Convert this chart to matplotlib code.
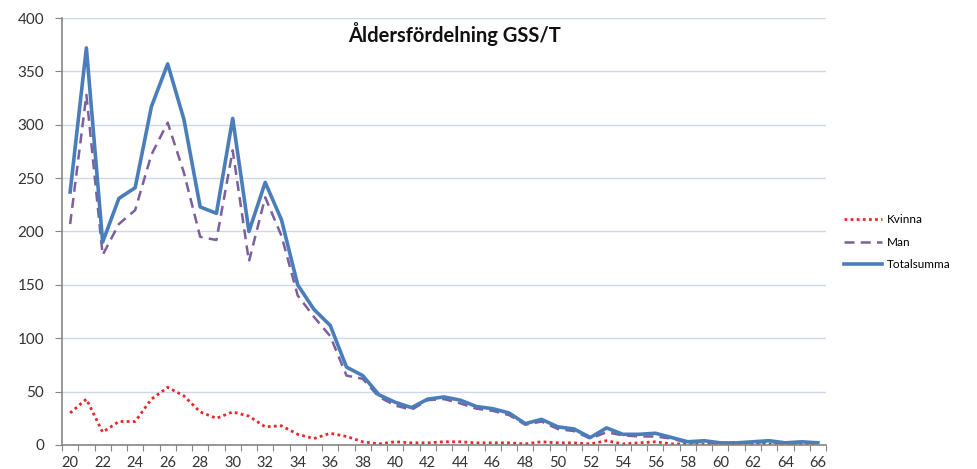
import numpy as np
import matplotlib.pyplot as plt

# Age categories and counts per series
ages = list(range(20, 67))
kvinna = [30, 43, 12, 22, 22, 43, 54, 46, 31, 25, 31, 27, 17, 18, 10, 6, 11, 8, 3, 1,
          3, 2, 2, 3, 3, 2, 2, 2, 1, 3, 2, 2, 1, 4, 1, 2, 3, 1, 1, 1,
          1, 0, 1, 1, 1, 1, 1]
man = [207, 328, 178, 207, 220, 272, 302, 255, 195, 192, 276, 172, 232, 196, 140, 120, 102, 65, 62, 45,
       37, 33, 42, 43, 39, 34, 32, 28, 19, 22, 15, 13, 6, 12, 9, 8, 8, 6, 2, 3,
       1, 2, 2, 3, 1, 2, 2]
total = [237, 372, 190, 231, 241, 317, 357, 305, 223, 217, 306, 200, 246, 211, 150, 127, 112, 73, 65, 47,
         40, 35, 43, 45, 42, 36, 34, 30, 20, 24, 17, 15, 7, 16, 10, 10, 11, 7, 3, 4,
         2, 2, 3, 4, 2, 3, 2]

plt.rcParams['font.family'] = ['Lato', 'DejaVu Sans']

fig = plt.figure(figsize=(9.78, 4.69), dpi=100)
ax = fig.add_axes([0.0634, 0.0512, 0.7812, 0.9104])

ax.plot(ages, kvinna, color='#e8262b', lw=2.0, ls=(0, (1, 1.2)), label='Kvinna')
ax.plot(ages, man, color='#7b5fa0', lw=1.8, ls=(0, (4, 2.5)), label='Man')
ax.plot(ages, total, color='#4a7ebb', lw=2.6, label='Totalsumma')

ax.set_xlim(19.5, 66.5)
ax.set_ylim(0, 400)
ax.set_yticks(range(0, 401, 50))
ax.grid(axis='y', color='#ccd9ec', lw=1.0)
ax.set_axisbelow(True)

# tick marks between categories, labels on every second age
ax.set_xticks(np.arange(19.5, 67, 1))
ax.set_xticklabels([])
ax.set_xticks(ages[::2], minor=True)
ax.set_xticklabels([str(a) for a in ages[::2]], minor=True)
ax.tick_params(axis='x', which='major', length=4, color='#868686', direction='out')
ax.tick_params(axis='x', which='minor', length=0, pad=8, labelsize=10.5, labelcolor='#333333')
ax.tick_params(axis='y', length=5, color='#868686', labelsize=11, labelcolor='#333333', pad=8)

for s in ['top', 'right']:
    ax.spines[s].set_visible(False)
for s in ['left', 'bottom']:
    ax.spines[s].set_color('#868686')
    ax.spines[s].set_linewidth(1.2)

ax.text(0.514, 0.962, 'Åldersfördelning GSS/T', transform=ax.transAxes, ha='center',
        va='center', fontsize=14.5, fontweight='bold', color='#111111')

ax.legend(loc='center left', bbox_to_anchor=(1.01, 0.475), frameon=False,
          fontsize=8.5, handlelength=3.2, labelspacing=0.95, handletextpad=0.4)

fig.savefig('out.png', dpi=100)
